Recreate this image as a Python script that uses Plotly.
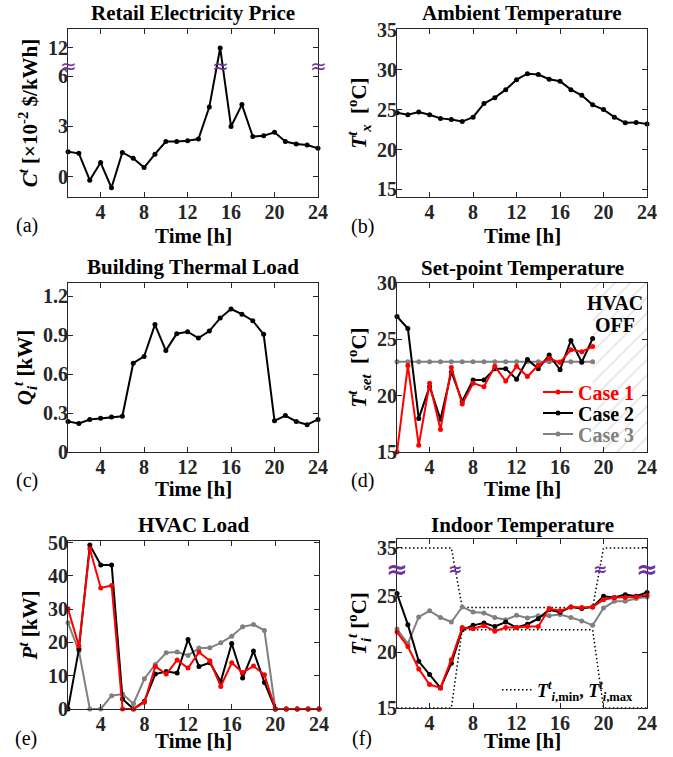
import plotly.graph_objects as go

# ---------------- data ----------------
hours = list(range(1, 25))
price = [1.5, 1.4, -0.2, 0.85, -0.65, 1.45, 1.1, 0.55, 1.35, 2.1, 2.1, 2.15,
         2.25, 4.15, 12.0, 3.0, 4.3, 2.4, 2.45, 2.65, 2.1, 1.95, 1.9, 1.7]
ambient = [24.6, 24.35, 24.7, 24.35, 23.9, 23.75, 23.5, 24.05, 25.75, 26.5, 27.5, 28.75,
           29.5, 29.4, 28.8, 28.55, 27.5, 26.8, 25.6, 25.0, 24.05, 23.35, 23.4, 23.2]
thermal_load = [0.235, 0.22, 0.25, 0.26, 0.27, 0.275, 0.683, 0.735, 0.98, 0.78, 0.91, 0.925,
                0.876, 0.93, 1.03, 1.10, 1.06, 1.01, 0.905, 0.24, 0.28, 0.235, 0.21, 0.25]
set_hours = list(range(1, 20))
setpoint_case1 = [15.0, 22.67, 15.6, 21.1, 17.0, 22.5, 19.25, 21.1, 20.8, 22.6, 21.3, 22.6,
                  21.7, 22.7, 23.3, 22.95, 24.07, 23.9, 24.36]
setpoint_case2 = [27.03, 25.96, 17.98, 20.8, 17.9, 22.1, 19.5, 21.4, 21.4, 22.4, 22.4, 21.45,
                  23.2, 22.4, 23.6, 22.3, 24.9, 22.97, 25.07]
setpoint_case3 = [23.0] * 19
hvac_case1 = [30.1, 18.9, 48.2, 36.4, 37.1, 0, 0, 2.0, 12.8, 10.5, 14.7, 12.3,
              17.1, 14.5, 6.8, 13.9, 11.0, 12.9, 10.3, 0, 0, 0, 0, 0]
hvac_case2 = [0, 18.0, 49.3, 43.3, 43.3, 3.0, 0, 2.3, 10.5, 11.3, 10.8, 20.9,
              12.8, 13.9, 8.3, 19.7, 9.3, 17.4, 8.0, 0, 0, 0, 0, 0]
hvac_case3 = [25.9, 17.4, 0, 0, 4.0, 4.5, 1.6, 9.1, 13.4, 16.9, 17.1, 16.1,
              18.3, 18.4, 19.9, 21.9, 24.7, 25.4, 23.6, 0, 0, 0, 0, 0]
indoor_case1 = [21.8, 20.5, 18.5, 17.1, 16.8, 19.33, 22.2, 22.1, 22.37, 21.87, 22.2, 22.2,
                22.3, 22.3, 23.9, 23.7, 24.05, 24.0, 24.05, 24.7, 24.9, 24.9, 24.94, 25.1]
indoor_case2 = [25.24, 22.46, 19.18, 18.0, 16.8, 19.0, 22.0, 22.4, 22.6, 22.3, 22.7, 22.2,
                22.5, 23.0, 23.8, 23.57, 24.05, 23.9, 24.05, 25.0, 24.9, 25.15, 25.0, 25.35]
indoor_case3 = [22.07, 20.76, 23.15, 23.7, 23.1, 22.7, 24.05, 23.6, 23.5, 23.1, 22.9, 23.3,
                23.06, 23.27, 23.27, 23.36, 23.1, 22.8, 22.4, 23.95, 24.55, 24.55, 24.8, 24.94]
t_min = [15] * 6 + [22] * 13 + [15] * 5
t_max = [35] * 6 + [24] * 13 + [35] * 5
hvac_off_start, hvac_off_end = 19, 24
time_ticks = [4, 8, 12, 16, 20, 24]

# broken axes
PRICE_BREAK, PRICE_GAP = 6.6, 4.33
TEMP_BREAK, TEMP_GAP = 27.4, 5.67


def brk(vals, lim, gap):
    return [v if v <= lim else v - gap for v in vals]


# ---------------- figure ----------------
W, H = 673, 757
FONT = "Liberation Serif, DejaVu Serif, serif"
RED, BLACK, GRAY, PURPLE = "#FF0000", "#000000", "#808080", "#7030A0"
TICKCOL = "#262626"


def px(x):
    return x / W


def py(y):
    return 1 - y / H


fig = go.Figure()


def add(x, y, color, n, name=None, legend=None, dash=None, marker=True, width=2):
    ax = "" if n == 1 else str(n)
    fig.add_trace(go.Scatter(
        x=x, y=y, mode="lines+markers" if marker else "lines",
        line=dict(color=color, width=width, dash=dash),
        marker=dict(size=5, color=color),
        xaxis="x" + ax, yaxis="y" + ax, name=name,
        showlegend=legend is not None, legend=legend or "legend",
        cliponaxis=False, hoverinfo="skip"))


# (a)
add(hours, brk(price, PRICE_BREAK, PRICE_GAP), BLACK, 1)
# (b)
add(hours, ambient, BLACK, 2)
# (c)
add(hours, thermal_load, BLACK, 3)
# (d) hatch
fig.add_trace(go.Scatter(
    x=[hvac_off_start, hvac_off_end, hvac_off_end, hvac_off_start, hvac_off_start],
    y=[15, 15, 30, 30, 15], fill="toself", mode="lines", line=dict(width=0),
    fillcolor="rgba(0,0,0,0)",
    fillpattern=dict(shape="/", fgcolor="#bdbdbd", bgcolor="rgba(255,255,255,0)", size=11, solidity=0.12),
    xaxis="x4", yaxis="y4", showlegend=False, hoverinfo="skip"))
add(set_hours, setpoint_case3, GRAY, 4, "Case 3", "legend3")
add(set_hours, setpoint_case2, BLACK, 4, "Case 2", "legend2")
add(set_hours, setpoint_case1, RED, 4, "Case 1", "legend")
# (e)
add(hours, hvac_case3, GRAY, 5)
add(hours, hvac_case2, BLACK, 5)
add(hours, hvac_case1, RED, 5)
# (f)
DOT = "1.5px,2.5px"
add(hours, brk(t_max, TEMP_BREAK, TEMP_GAP), BLACK, 6,
    "<i>T</i><sup><i>t</i></sup><sub><i>i</i>,min</sub>, <i>T</i><sup><i>t</i></sup><sub><i>i</i>,max</sub>",
    "legend4", dash=DOT, marker=False, width=1.5)
add(hours, brk(t_min, TEMP_BREAK, TEMP_GAP), BLACK, 6, dash=DOT, marker=False, width=1.5)
add(hours, indoor_case3, GRAY, 6)
add(hours, indoor_case2, BLACK, 6)
add(hours, indoor_case1, RED, 6)

boxes = {
    1: (68, 318, 29, 197),
    2: (397, 647, 29, 197),
    3: (68, 318, 283, 452),
    4: (397, 647, 283, 452),
    5: (68, 319, 541, 709),
    6: (397, 647, 539, 708),
}
yspecs = {
    1: dict(range=[-1.2, 8.8], tickvals=[0, 3, 6, 12 - PRICE_GAP], ticktext=["0", "3", "6", "12"],
            title="<i>C</i><sup><i>t</i></sup> [×10<sup>-2</sup> $/kWh]"),
    2: dict(range=[14.05, 35.1], tickvals=[15, 20, 25, 30, 35],
            title="<i>T</i><sup><i>t</i></sup><sub><i>x</i></sub>  [<sup>o</sup>C]"),
    3: dict(range=[0, 1.3], tickvals=[0, 0.3, 0.6, 0.9, 1.2], ticktext=["0", "0.3", "0.6", "0.9", "1.2"],
            title="<i>Q<sub>i</sub></i><sup><i>t</i></sup> [kW]"),
    4: dict(range=[15, 30], tickvals=[15, 20, 25, 30],
            title="<i>T</i><sup><i>t</i></sup><sub><i>set</i></sub>  [<sup>o</sup>C]"),
    5: dict(range=[0, 50.5], tickvals=[0, 10, 20, 30, 40, 50],
            title="<i>P</i><sup><i>t</i></sup> [kW]"),
    6: dict(range=[15, 30.13], tickvals=[15, 20, 25, 35 - TEMP_GAP], ticktext=["15", "20", "25", "35"],
            title="<i>T</i><sub><i>i</i></sub><sup><i>t</i></sup> [<sup>o</sup>C]"),
}
xtitle_y = {1: 236, 2: 236, 3: 489, 4: 489, 5: 741, 6: 741}

axis_common = dict(showline=True, linecolor=TICKCOL, linewidth=1, mirror="ticks", ticks="inside",
                   ticklen=5, tickwidth=1, tickcolor=TICKCOL, showgrid=False, zeroline=False,
                   tickfont=dict(family=FONT, size=20, color=TICKCOL, weight="bold"),
                   automargin=False)
layout = {}
annotations = []
for n, (x0, x1, y0, y1) in boxes.items():
    ax = "" if n == 1 else str(n)
    ys = yspecs[n]
    layout["xaxis" + ax] = dict(domain=[px(x0), px(x1)], anchor="y" + ax, range=[1, 24],
                                tickvals=time_ticks, ticklabelstandoff=-3,
                                **axis_common)
    annotations.append(dict(text="Time [h]", x=px((x0 + x1) / 2), y=py(xtitle_y[n]), xref="paper",
                            yref="paper", showarrow=False, xanchor="center", yanchor="middle",
                            font=dict(family=FONT, size=21, color=BLACK, weight="bold")))
    yd = dict(domain=[py(y1), py(y0)], anchor="x" + ax, range=ys["range"], tickvals=ys["tickvals"],
              ticklabelstandoff=-5,
              title=dict(text=ys["title"], standoff=4,
                         font=dict(family=FONT, size=21, color=BLACK, weight="bold")),
              **axis_common)
    if "ticktext" in ys:
        yd["ticktext"] = ys["ticktext"]
    layout["yaxis" + ax] = yd

titles = ["Retail Electricity Price", "Ambient Temperature", "Building Thermal Load",
          "Set-point Temperature", "HVAC Load", "Indoor Temperature"]
title_y = [13, 13, 267, 268, 525, 525]
labels = ["(a)", "(b)", "(c)", "(d)", "(e)", "(f)"]
label_pos = [(27, 225), (362, 227), (27, 480), (362, 480), (26, 738), (362, 738)]
for i, n in enumerate(boxes):
    x0, x1, y0, y1 = boxes[n]
    annotations.append(dict(text=titles[i], x=px((x0 + x1) / 2), y=py(title_y[i]), xref="paper",
                            yref="paper", showarrow=False, xanchor="center", yanchor="middle",
                            font=dict(family=FONT, size=21, color=BLACK, weight="bold")))
    annotations.append(dict(text=labels[i], x=px(label_pos[i][0]), y=py(label_pos[i][1]), xref="paper",
                            yref="paper", showarrow=False, xanchor="center", yanchor="middle",
                            font=dict(family=FONT, size=20, color=BLACK)))

# HVAC OFF text
for txt, yy in [("HVAC", 28.25), ("OFF", 26.3)]:
    annotations.append(dict(text=txt, x=21.1, y=yy, xref="x4", yref="y4", showarrow=False,
                            xanchor="center", yanchor="middle",
                            font=dict(family=FONT, size=20, color=BLACK, weight="bold")))


# break marks
def brkmark(x, y, ax, size, bold):
    annotations.append(dict(text="≈", x=x, y=y, xref="x" + ax, yref="y" + ax, showarrow=False,
                            xanchor="center", yanchor="middle",
                            font=dict(family="DejaVu Sans", size=size, color=PURPLE,
                                      weight="bold" if bold else "normal")))


for xb in [1, 15, 24]:
    brkmark(xb, PRICE_BREAK, "", 20, False)
# crossing points of the upper bound with the break
tmax_b = brk(t_max, TEMP_BREAK, TEMP_GAP)
cross = []
for i in range(len(hours) - 1):
    a, b = tmax_b[i], tmax_b[i + 1]
    if (a - TEMP_BREAK) * (b - TEMP_BREAK) < 0:
        cross.append(hours[i] + (TEMP_BREAK - a) / (b - a))
brkmark(1, TEMP_BREAK, "6", 26, True)
brkmark(24, TEMP_BREAK, "6", 26, True)
for c in cross:
    brkmark(c, TEMP_BREAK, "6", 17, True)

leg_common = dict(xanchor="left", yanchor="middle", bgcolor="rgba(0,0,0,0)", borderwidth=0,
                  itemwidth=30)
LX = 538
layout["legend"] = dict(x=px(LX), y=py(392), font=dict(family=FONT, size=20, color=RED, weight="bold"),
                        **leg_common)
layout["legend2"] = dict(x=px(LX), y=py(413), font=dict(family=FONT, size=20, color=BLACK, weight="bold"),
                         **leg_common)
layout["legend3"] = dict(x=px(LX), y=py(434), font=dict(family=FONT, size=20, color=GRAY, weight="bold"),
                         **leg_common)
layout["legend4"] = dict(x=px(497), y=py(690), font=dict(family=FONT, size=18, color=BLACK, weight="bold"),
                         **leg_common)

fig.update_layout(**layout)
fig.update_layout(
    width=W, height=H, margin=dict(l=0, r=0, t=0, b=0),
    paper_bgcolor="white", plot_bgcolor="white",
    font=dict(family=FONT, color=BLACK),
    annotations=annotations,
)
fig.write_html("out.html", config={"displayModeBar": False},
               post_script="document.body.style.margin='0px';document.body.style.padding='0px';")
